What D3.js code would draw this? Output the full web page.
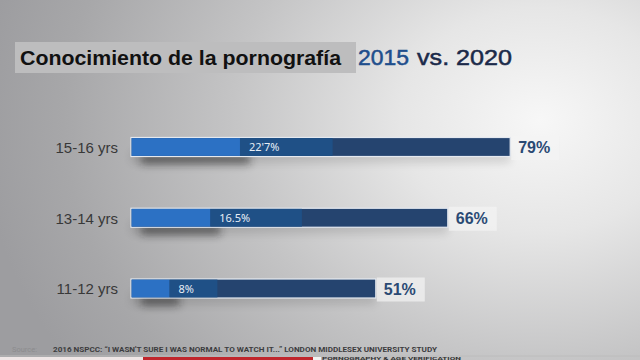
<!DOCTYPE html>
<html>
<head>
<meta charset="utf-8">
<script src="https://cdn.jsdelivr.net/npm/d3@7/dist/d3.min.js"></script>
<style>
  html, body { margin: 0; padding: 0; background: #b0b0b0; }
  svg { display: block; }
</style>
</head>
<body>
<svg id="chart" width="640" height="360"></svg>
<script>
// ---- data ----
const categories = ["15-16 yrs", "13-14 yrs", "11-12 yrs"];
const values2015 = [22.7, 16.5, 8];
const labels2015 = ["22'7%", "16.5%", "8%"];
const values2020 = [79, 66, 51];
const labels2020 = ["79%", "66%", "51%"];
const highlightEnd = [42, 35.6, 18]; // lighter band behind inner label
const titleText = "Conocimiento de la pornografía";
const sourceText = "2016 NSPCC: \u201CI WASN'T SURE I WAS NORMAL TO WATCH IT...\u201D LONDON MIDDLESEX UNIVERSITY STUDY";

const rows = categories.map((c, i) => ({
  cat: c, v15: values2015[i], l15: labels2015[i], v20: values2020[i], l20: labels2020[i], hi: highlightEnd[i]
}));

const svg = d3.select("#chart");
const W = 640, H = 360;
const defs = svg.append("defs");

// background radial gradient
const bg = defs.append("radialGradient").attr("id", "bg")
  .attr("gradientUnits", "userSpaceOnUse")
  .attr("cx", 540).attr("cy", 120).attr("r", 560)
  .attr("gradientTransform", "translate(540,120) scale(1,0.8) translate(-540,-120)");
bg.append("stop").attr("offset", "0%").attr("stop-color", "#f7f7f7");
bg.append("stop").attr("offset", "25%").attr("stop-color", "#e6e6e6");
bg.append("stop").attr("offset", "55%").attr("stop-color", "#c4c4c5");
bg.append("stop").attr("offset", "85%").attr("stop-color", "#a7a7a9");
bg.append("stop").attr("offset", "100%").attr("stop-color", "#9d9da0");

const blur = defs.append("filter").attr("id", "blur").attr("x", "-20%").attr("y", "-100%").attr("width", "140%").attr("height", "300%");
blur.append("feGaussianBlur").attr("stdDeviation", 4);

svg.append("rect").attr("width", W).attr("height", H).attr("fill", "url(#bg)");

// ---- title ----
svg.append("rect").attr("x", 15).attr("y", 42).attr("width", 341).attr("height", 31).attr("fill", "#bdbdbe");
svg.append("text").attr("x", 20).attr("y", 65)
  .attr("font-family", "Liberation Sans, Arial, sans-serif").attr("font-weight", "bold")
  .attr("font-size", 21).attr("fill", "#111")
  .attr("textLength", 321).attr("lengthAdjust", "spacingAndGlyphs")
  .text(titleText);
svg.append("text").attr("x", 358).attr("y", 65)
  .attr("font-family", "Liberation Sans, Arial, sans-serif")
  .attr("font-size", 22).attr("fill", "#1f4e8c")
  .attr("stroke", "#1f4e8c").attr("stroke-width", 0.5)
  .attr("textLength", 51).attr("lengthAdjust", "spacingAndGlyphs")
  .text("2015");
svg.append("text").attr("x", 417).attr("y", 65)
  .attr("font-family", "Liberation Sans, Arial, sans-serif")
  .attr("font-size", 22).attr("fill", "#1b2a4a")
  .attr("stroke", "#1b2a4a").attr("stroke-width", 0.5)
  .attr("textLength", 95).attr("lengthAdjust", "spacingAndGlyphs")
  .text("vs. 2020");

// ---- scales ----
const x = d3.scaleLinear().domain([0, 100]).range([131, 611]);
const y = d3.scalePoint().domain(categories).range([147, 288.5]);
const bh = 19;

// y axis labels
const yAxis = d3.axisLeft(y).tickSize(0).tickPadding(0);
const ga = svg.append("g").attr("transform", "translate(118,0)").call(yAxis);
ga.select(".domain").remove();
ga.selectAll("text")
  .attr("font-family", "Liberation Sans, Arial, sans-serif")
  .attr("font-size", 15).attr("fill", "#383838").attr("dy", "0.35em");

const g = svg.append("g");
const bars = g.selectAll("g.bar").data(rows).join("g").attr("class", "bar");

// shadows
bars.append("rect")
  .attr("x", x(0)).attr("y", d => y(d.cat) + 4)
  .attr("width", d => x(d.v20) - x(0)).attr("height", 12)
  .attr("fill", "#000").attr("opacity", 0.12).attr("filter", "url(#blur)");
bars.append("rect")
  .attr("x", x(0) + 10).attr("y", d => y(d.cat) + 7)
  .attr("width", d => x(d.v15) - x(0)).attr("height", 10)
  .attr("fill", "#1a1a1a").attr("opacity", 0.55).attr("filter", "url(#blur)");

// 2020 bar (dark) with light border
bars.append("rect")
  .attr("x", x(0)).attr("y", d => y(d.cat) - bh / 2)
  .attr("width", d => x(d.v20) - x(0)).attr("height", bh)
  .attr("fill", "#25446f").attr("stroke", "#e4e9f0").attr("stroke-width", 1.2);
// highlight band
bars.append("rect")
  .attr("x", d => x(d.v15)).attr("y", d => y(d.cat) - bh / 2 + 0.6)
  .attr("width", d => x(d.hi) - x(d.v15)).attr("height", bh - 1.2)
  .attr("fill", "#1f5086");
// 2015 bar (light blue)
bars.append("rect")
  .attr("x", x(0) + 0.6).attr("y", d => y(d.cat) - bh / 2 + 0.6)
  .attr("width", d => x(d.v15) - x(0) - 0.6).attr("height", bh - 1.2)
  .attr("fill", "#2c71c4");

// inner labels (2015)
bars.append("text")
  .attr("x", d => x(d.v15) + 9).attr("y", d => y(d.cat) + 4)
  .attr("font-family", "Noto Sans, Open Sans, sans-serif")
  .attr("font-size", 11).attr("fill", "#e8eef6")
  .text(d => d.l15);

// value label boxes (2020)
bars.append("rect")
  .attr("x", d => x(d.v20) + 1).attr("y", d => y(d.cat) - 11)
  .attr("width", 48).attr("height", 24)
  .attr("fill", "#f3f3f3").attr("opacity", 0.7);
bars.append("text")
  .attr("x", d => x(d.v20) + 8).attr("y", d => y(d.cat) + 6)
  .attr("font-family", "Liberation Sans, Arial, sans-serif").attr("font-weight", "bold")
  .attr("font-size", 16).attr("fill", "#2b4a74")
  .text(d => d.l20);

// ---- footer ----
svg.append("text").attr("x", 12).attr("y", 352)
  .attr("font-family", "Roboto, sans-serif").attr("font-size", 7.5).attr("fill", "#8c8c8e")
  .text("Source:");
svg.append("text").attr("x", 53).attr("y", 352)
  .attr("font-family", "Roboto, sans-serif").attr("font-weight", "bold")
  .attr("font-size", 8).attr("fill", "#3c3c3e")
  .attr("textLength", 384).attr("lengthAdjust", "spacingAndGlyphs")
  .text(sourceText);
svg.append("line").attr("x1", 0).attr("x2", W).attr("y1", 356).attr("y2", 356)
  .attr("stroke", "#bcbcbc").attr("stroke-width", 1);
svg.append("rect").attr("x", 0).attr("y", 357).attr("width", 143).attr("height", 3).attr("fill", "#efe6e6");
svg.append("rect").attr("x", 143).attr("y", 357).attr("width", 170).attr("height", 3).attr("fill", "#c0262c");
svg.append("rect").attr("x", 313).attr("y", 357).attr("width", 8).attr("height", 3).attr("fill", "#f2f2f2");
svg.append("text").attr("x", 322).attr("y", 359.8)
  .attr("font-family", "Roboto, sans-serif").attr("font-weight", "bold")
  .attr("font-size", 4).attr("fill", "#333")
  .attr("textLength", 139).attr("lengthAdjust", "spacingAndGlyphs")
  .text("PORNOGRAPHY & AGE VERIFICATION");
</script>
</body>
</html>
